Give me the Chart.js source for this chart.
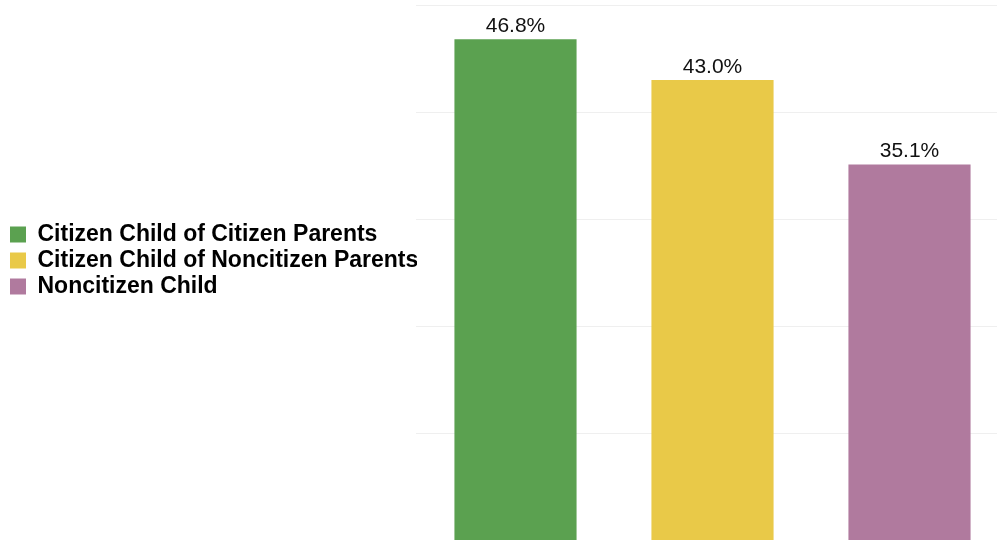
<!DOCTYPE html>
<html>
<head>
<meta charset="utf-8">
<script src="https://cdn.jsdelivr.net/npm/chart.js@4/dist/chart.umd.min.js"></script>
<style>
  html, body { margin: 0; padding: 0; background: #ffffff; overflow: hidden; }
  #wrap { position: relative; width: 1008px; height: 540px; }
</style>
</head>
<body>
<div id="wrap"><canvas id="c" width="1008" height="540"></canvas></div>
<script>
const categories = ["Citizen Child of Citizen Parents", "Citizen Child of Noncitizen Parents", "Noncitizen Child"];
const values = [46.8, 43.0, 35.1];
const colors = ["#5ba150", "#e9c948", "#b07a9e"];
const yTicks = [0, 10, 20, 30, 40, 50];

const CHART_LEFT = 417;
const PAD_LEFT = 7;

// fixes the legend box width so the plot area starts where the reference's does
const legendWidth = {
  id: 'legendWidth',
  afterInit(chart) {
    const lg = chart.legend;
    if (!lg || lg._patched) return;
    const orig = lg.fit.bind(lg);
    lg.fit = function () { orig(); this.width = CHART_LEFT - PAD_LEFT; };
    lg._patched = true;
  }
};

// horizontal gridlines from the y scale
const gridLines = {
  id: 'gridLines',
  beforeDatasetsDraw(chart) {
    const ctx = chart.ctx, ys = chart.scales.y, a = chart.chartArea;
    ctx.save();
    ctx.strokeStyle = '#efefef';
    ctx.lineWidth = 1;
    yTicks.forEach(v => {
      const py = Math.round(ys.getPixelForValue(v)) + 0.5;
      ctx.beginPath();
      ctx.moveTo(a.left - 1, py);
      ctx.lineTo(a.right, py);
      ctx.stroke();
    });
    ctx.restore();
  }
};

const valueLabels = {
  id: 'valueLabels',
  afterDatasetsDraw(chart) {
    const ctx = chart.ctx;
    const meta = chart.getDatasetMeta(0);
    ctx.save();
    ctx.font = '21px "Liberation Sans", Arial, sans-serif';
    ctx.fillStyle = '#111111';
    ctx.textAlign = 'center';
    ctx.textBaseline = 'alphabetic';
    meta.data.forEach((bar, i) => {
      ctx.fillText(values[i].toFixed(1) + '%', bar.x, bar.y - 7);
    });
    ctx.restore();
  }
};

new Chart(document.getElementById('c'), {
  type: 'bar',
  data: {
    labels: categories,
    datasets: [{
      data: values,
      backgroundColor: colors,
      borderWidth: 0,
      barPercentage: 0.62,
      categoryPercentage: 1.0
    }]
  },
  options: {
    responsive: false,
    animation: false,
    devicePixelRatio: 1,
    layout: { padding: { top: 5, left: PAD_LEFT, right: 0, bottom: 0 } },
    plugins: {
      tooltip: { enabled: false },
      legend: {
        position: 'left',
        align: 'start',
        title: { display: true, text: ' ', font: { size: 1, lineHeight: 1 }, padding: { top: 214, bottom: 0 } },
        labels: {
          boxWidth: 16,
          boxHeight: 16,
          padding: 3,
          color: '#000000',
          font: { family: '"Liberation Sans", Arial, sans-serif', size: 23, weight: 'bold' },
          generateLabels(chart) {
            return chart.data.labels.map((l, i) => ({
              text: l,
              fillStyle: colors[i],
              strokeStyle: colors[i],
              lineWidth: 0,
              hidden: false,
              index: i,
              fontColor: '#000000'
            }));
          }
        },
        onClick: null
      }
    },
    scales: {
      x: { display: false },
      y: {
        display: false,
        min: 0,
        max: 50
      }
    }
  },
  plugins: [legendWidth, gridLines, valueLabels]
});
</script>
</body>
</html>
